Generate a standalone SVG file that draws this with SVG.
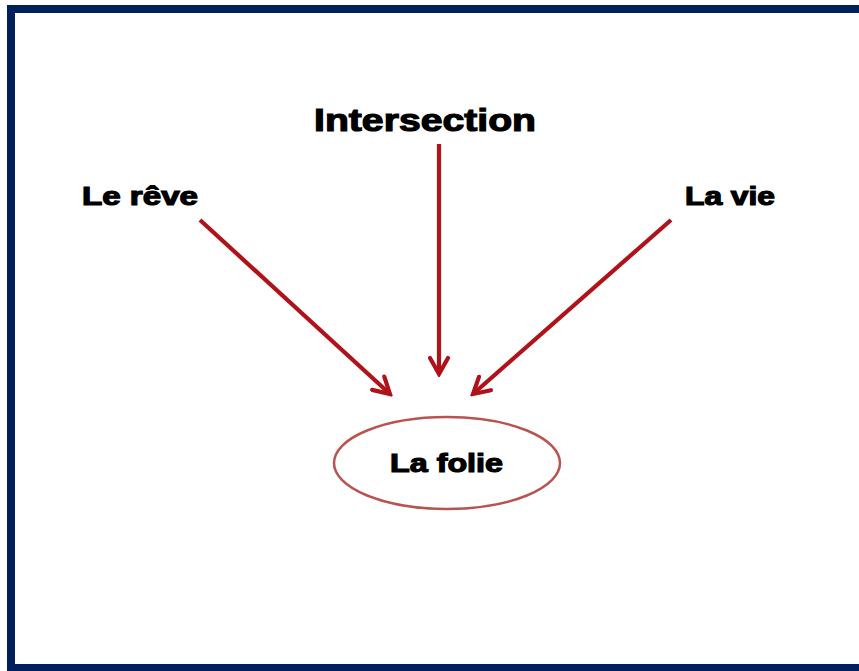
<svg xmlns="http://www.w3.org/2000/svg" width="859" height="671" viewBox="0 0 859 671">
<style>
.lbl{font-family:"Liberation Sans",Arial,sans-serif;font-weight:bold;fill:#000;stroke:#000;stroke-width:1.2;}
.conn{stroke:#B0121A;stroke-width:4.2;fill:none;}
</style>
<defs>
<marker id="ah" viewBox="0 0 22 22" refX="19" refY="11" markerWidth="22" markerHeight="22" markerUnits="userSpaceOnUse" orient="auto">
<path d="M3,2 L19,11 L3,20" fill="none" stroke="#B0121A" stroke-width="4.2" stroke-linecap="round" stroke-linejoin="miter"/>
</marker>
</defs>
<rect width="859" height="671" fill="#fff"/>
<path d="M11,671 V9 H859 M7,668 H859" fill="none" stroke="#00205B" stroke-width="8"/>
<g id="connectors">
<line class="conn" x1="200" y1="220" x2="390" y2="394" marker-end="url(#ah)"/>
<line class="conn" x1="439" y1="144" x2="439" y2="374" marker-end="url(#ah)"/>
<line class="conn" x1="671" y1="220" x2="473" y2="394" marker-end="url(#ah)"/>
</g>
<g id="intersection"><text class="lbl" x="314" y="131" font-size="32" textLength="222" lengthAdjust="spacingAndGlyphs">Intersection</text></g>
<g id="le-reve"><text class="lbl" x="82" y="205" font-size="25" textLength="116" lengthAdjust="spacingAndGlyphs">Le rêve</text></g>
<g id="la-vie"><text class="lbl" x="685" y="205" font-size="25" textLength="90" lengthAdjust="spacingAndGlyphs">La vie</text></g>
<g id="la-folie">
<ellipse cx="447" cy="463" rx="113" ry="46" fill="none" stroke="#B85450" stroke-width="2.5"/>
<text class="lbl" x="390" y="472" font-size="26" textLength="113" lengthAdjust="spacingAndGlyphs">La folie</text>
</g>
</svg>
